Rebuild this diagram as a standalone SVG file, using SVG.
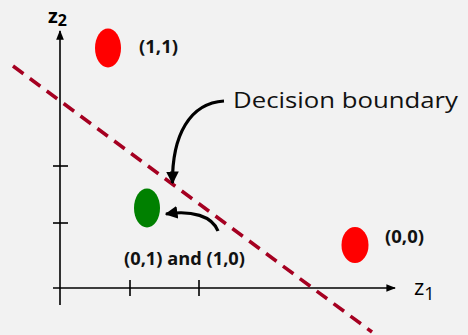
<svg xmlns="http://www.w3.org/2000/svg" width="468" height="335" viewBox="0 0 468 335">
<defs>
<marker id="ah" viewBox="0 0 10 10" refX="9" refY="5" markerWidth="4" markerHeight="4" orient="auto" markerUnits="strokeWidth"><path d="M0,0 L10,5 L0,10 z" fill="#000"/></marker>
<marker id="axh" viewBox="0 0 10 10" refX="9" refY="5" markerWidth="6" markerHeight="6" orient="auto" markerUnits="strokeWidth"><path d="M0,1 L10,5 L0,9 z" fill="#000"/></marker>
<style>
.ax{stroke:#000;stroke-width:1.6;fill:none}
.lbl{font-family:"Open Sans","Liberation Sans",sans-serif;font-weight:bold;font-size:17px;fill:#111}
.curve{stroke:#000;stroke-width:3.2;fill:none}
</style>
</defs>
<rect width="468" height="335" fill="#f2f2f2"/>
<g id="axes">
<line class="ax" x1="60" y1="305" x2="60" y2="31" marker-end="url(#axh)"/>
<line class="ax" x1="53" y1="288" x2="395" y2="288" marker-end="url(#axh)"/>
<line class="ax" x1="53" y1="166" x2="68" y2="166"/>
<line class="ax" x1="53" y1="223" x2="68" y2="223"/>
<line class="ax" x1="130" y1="280" x2="130" y2="296"/>
<line class="ax" x1="199" y1="280" x2="199" y2="296"/>
<text x="48" y="23" font-family="'Open Sans','Liberation Sans',sans-serif" font-weight="bold" font-size="20" fill="#000">z<tspan font-size="16" dy="3">2</tspan></text>
<text x="414" y="295" font-family="'Open Sans','Liberation Sans',sans-serif" font-size="22" fill="#000">z<tspan font-size="18" dy="5">1</tspan></text>
</g>
<g id="boundary">
<line x1="13" y1="66" x2="372" y2="332" stroke="#a50021" stroke-width="3.5" stroke-dasharray="13,8"/>
</g>
<g id="p11">
<ellipse cx="108" cy="48" rx="13" ry="19.5" fill="#ff0000"/>
<text class="lbl" x="139" y="53" textLength="39" lengthAdjust="spacingAndGlyphs">(1,1)</text>
</g>
<g id="p00">
<ellipse cx="355" cy="245" rx="13.5" ry="18" fill="#ff0000"/>
<text class="lbl" x="385" y="243" textLength="39" lengthAdjust="spacingAndGlyphs">(0,0)</text>
</g>
<g id="p01">
<ellipse cx="147" cy="208" rx="13" ry="19.5" fill="#008000"/>
<text class="lbl" x="124" y="265" textLength="121" lengthAdjust="spacingAndGlyphs">(0,1) and (1,0)</text>
</g>
<g id="label">
<text x="233" y="108" font-family="'Open Sans','Liberation Sans',sans-serif" font-size="22" fill="#111" textLength="225" lengthAdjust="spacingAndGlyphs">Decision boundary</text>
</g>
<g id="connectors">
<path class="curve" d="M224,101 C190,103 172,135 172.5,183" marker-end="url(#ah)"/>
<path class="curve" d="M218,231 C212,216 192,210 166,214" marker-end="url(#ah)"/>
</g>
</svg>
